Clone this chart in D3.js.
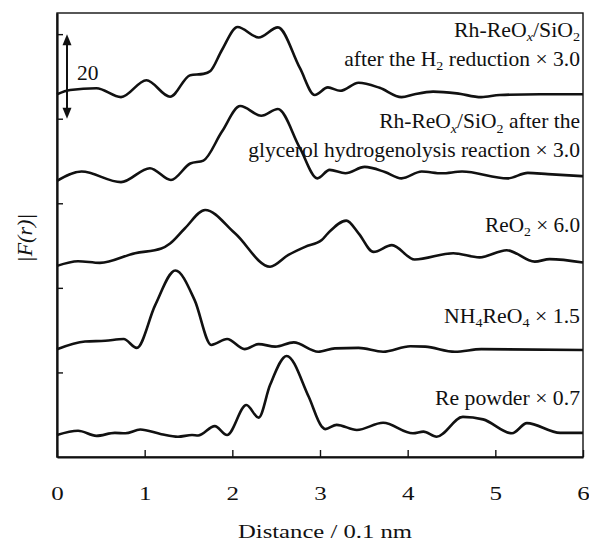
<!DOCTYPE html>
<html><head><meta charset="utf-8">
<script src="https://cdn.jsdelivr.net/npm/d3@7"></script>
<style>
body{margin:0;background:#fff;}
svg text{font-family:"Liberation Serif","Times New Roman",serif;fill:#111;}
</style></head>
<body><svg id="c" width="589" height="542"></svg>
<script>
// x: distance / 0.1 nm ; y: |F(r)| with vertical offsets as plotted
const h2Reduction = [[0,85.8],[0.15,86.8],[0.45,87.2],[0.73,85.1],[1.02,89.1],[1.29,85.2],[1.52,90.3],[1.67,90.6],[1.75,91.3],[1.88,96.2],[2.06,101.7],[2.30,99.2],[2.52,101.6],[2.77,92.0],[2.94,85.6],[3.09,87.4],[3.23,86.6],[3.44,88.5],[3.68,87.3],[3.93,85.1],[4.08,85.8],[4.29,86.4],[4.56,86.0],[4.84,85.1],[5.05,85.6],[5.51,85.8],[6.0,85.8]];
const glycerol = [[0,65.3],[0.28,67.5],[0.73,65.0],[1.06,68.3],[1.30,65.5],[1.52,69.4],[1.67,70.1],[1.88,76.9],[2.09,83.0],[2.33,80.7],[2.52,82.3],[2.77,73.1],[2.97,65.9],[3.11,67.9],[3.29,67.1],[3.51,68.6],[3.74,67.4],[3.93,65.9],[4.16,67.5],[4.39,67.1],[4.62,67.5],[5.14,65.9],[5.37,67.2],[5.60,66.9],[6.0,66.4]];
const reo2 = [[0,45.2],[0.24,46.3],[0.49,45.9],[0.89,48.2],[1.19,49.3],[1.29,50.5],[1.46,54.1],[1.69,58.4],[2.03,52.9],[2.43,45.0],[2.64,47.8],[2.83,49.7],[3.02,51.3],[3.09,52.9],[3.30,55.9],[3.44,52.9],[3.61,48.5],[3.82,50.1],[4.08,46.7],[4.52,48.2],[4.82,47.2],[5.13,48.9],[5.45,46.2],[5.62,46.8],[6.0,46.0]];
const nh4reo4 = [[0,25.5],[0.32,27.3],[0.55,27.5],[0.76,27.9],[0.91,25.8],[1.12,35.9],[1.35,44.1],[1.57,37.1],[1.76,26.5],[1.94,27.9],[2.14,25.5],[2.30,26.7],[2.49,26.1],[2.70,27.1],[2.98,24.9],[3.17,25.7],[3.44,25.8],[3.72,24.9],[4.03,26.2],[4.20,26.1],[4.54,24.9],[4.84,25.5],[6.0,25.3]];
const rePowder = [[0,5.2],[0.24,6.2],[0.45,5.0],[0.66,5.7],[0.78,5.6],[0.95,6.5],[1.19,5.4],[1.38,4.8],[1.54,5.2],[1.61,5.1],[1.80,7.3],[1.94,5.2],[2.16,12.3],[2.30,9.3],[2.43,17.0],[2.62,23.9],[2.87,14.3],[3.02,7.2],[3.06,6.6],[3.19,7.6],[3.42,6.4],[3.72,8.1],[4.06,5.6],[4.18,6.0],[4.33,4.8],[4.63,9.5],[4.86,8.9],[5.19,5.6],[5.36,8.0],[5.74,5.7],[6.0,5.7]];
const xTicks = [0,1,2,3,4,5,6];
const yTicks = [20,40,60,80,100];
const seriesList = [h2Reduction, glycerol, reo2, nh4reo4, rePowder];

const svg = d3.select("#c");
const L=57, R=583, T=13, B=457;
const x = d3.scaleLinear().domain([0,6]).range([L,R]);
const y = d3.scaleLinear().domain([0,105]).range([B,T]);

// horizontally fit a text to a target width, anchored at (ax, by)
function fit(t, target, ax, by){
  t.attr("x",0).attr("y",0);
  const w = t.node().getComputedTextLength();
  const s = w > 0 ? target / w : 1;
  t.attr("transform",`translate(${ax},${by}) scale(${s},1)`);
}

// frame
svg.append("rect").attr("x",L).attr("y",T).attr("width",R-L).attr("height",B-T)
  .attr("fill","none").attr("stroke","#111").attr("stroke-width",1.4);

// axes
const gx = svg.append("g").attr("transform",`translate(0,${B})`)
  .call(d3.axisBottom(x).tickValues(xTicks).tickFormat(d3.format("d")).tickSizeInner(-7).tickSizeOuter(0));
gx.select(".domain").attr("stroke","#111").attr("stroke-width",2.2);
gx.selectAll(".tick line").attr("stroke","#111").attr("stroke-width",1.4);
gx.selectAll(".tick text").attr("font-size",18.5).style("font-family","Liberation Serif, serif")
  .attr("fill","#111").attr("dy",0)
  .each(function(){ fit(d3.select(this), 12.5, 0, 42.5); });

const gy = svg.append("g").attr("transform",`translate(${L},0)`)
  .call(d3.axisLeft(y).tickValues(yTicks).tickFormat("").tickSizeInner(-6).tickSizeOuter(0));
gy.select(".domain").attr("stroke","#111").attr("stroke-width",2.2);
gy.selectAll(".tick line").attr("stroke","#111").attr("stroke-width",1.4);

// curves
const line = d3.line().x(d=>x(d[0])).y(d=>y(d[1])).curve(d3.curveMonotoneX);
svg.selectAll("path.curve").data(seriesList).enter().append("path")
  .attr("class","curve").attr("d",line).attr("fill","none")
  .attr("stroke","#111").attr("stroke-width",2.6).attr("stroke-linejoin","round");

// scale bar arrow (20 units)
const ax = 67;
const y1 = y(100), y2 = y(80);
svg.append("line").attr("x1",ax).attr("x2",ax).attr("y1",y1+6).attr("y2",y2-6)
  .attr("stroke","#111").attr("stroke-width",2);
svg.append("path").attr("d",`M${ax},${y1} L${ax-4.5},${y1+11} L${ax+4.5},${y1+11} Z`).attr("fill","#111");
svg.append("path").attr("d",`M${ax},${y2} L${ax-4.5},${y2-11} L${ax+4.5},${y2-11} Z`).attr("fill","#111");
fit(svg.append("text").attr("font-size",21).text("20"), 21.5, 77, 80);

// labels
function label(yb, width, parts){
  const t = svg.append("text").attr("text-anchor","end").attr("font-size",20);
  let pendingUp = false;
  parts.forEach(p=>{
    if(typeof p === "string"){
      const ts = t.append("tspan").text(p);
      if(pendingUp){ ts.attr("dy",-4.5); pendingUp=false; }
    } else {
      t.append("tspan").attr("dy",pendingUp?0:4.5).attr("font-size",13)
        .attr("font-style",p.i?"italic":null).text(p.s);
      pendingUp = true;
    }
  });
  fit(t, width, 580, yb);
}
label(36.5, 126, ["Rh-ReO",{s:"x",i:true},"/SiO",{s:"2"}]);
label(65.5, 236, ["after the H",{s:"2"}," reduction × 3.0"]);
label(128, 201, ["Rh-ReO",{s:"x",i:true},"/SiO",{s:"2"}," after the"]);
label(156.5, 332, ["glycerol hydrogenolysis reaction × 3.0"]);
label(231.5, 95, ["ReO",{s:"2"}," × 6.0"]);
label(322.5, 136, ["NH",{s:"4"},"ReO",{s:"4"}," × 1.5"]);
label(405, 145, ["Re powder × 0.7"]);

// axis titles
fit(svg.append("text").attr("text-anchor","middle").attr("font-size",19.2).text("Distance / 0.1 nm"), 174, 325, 537.5);
svg.append("text").attr("transform","translate(32,238) rotate(-90)").attr("text-anchor","middle")
  .attr("font-size",22).attr("font-style","italic").text("|F(r)|");
</script></body></html>
